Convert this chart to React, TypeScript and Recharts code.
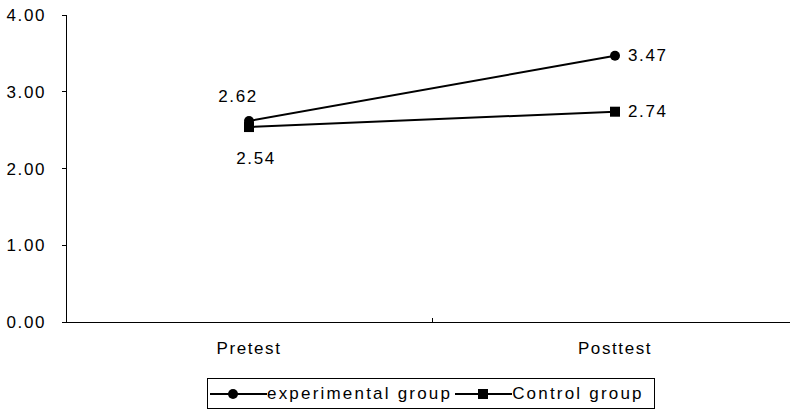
import { LineChart, Line, XAxis, YAxis, LabelList } from 'recharts';

const categories = ['Pretest', 'Posttest'];
const experimentalValues = [2.62, 3.47];
const controlValues = [2.54, 2.74];
const yTicks = [0, 1, 2, 3, 4];

const data = categories.map((name, i) => ({
    name,
    experimental: experimentalValues[i],
    control: controlValues[i],
}));

const FONT = '"Liberation Sans", Arial, sans-serif';
const textStyle = { fontFamily: FONT, fontSize: 17, letterSpacing: 1.6, fill: '#000' };
const axisStroke = { stroke: '#000', strokeWidth: 1, shapeRendering: 'crispEdges' };

// category label + small divider tick between categories
const CategoryTick = (props: any) => {
    const { x, y, payload, index, visibleTicksCount, width } = props;
    const band = width / visibleTicksCount;
    const axisY = y - 20;
    return (
        <g>
            <text x={x} y={y} dy="0.71em" textAnchor="middle" style={textStyle}>
                {payload.value}
            </text>
            {index < visibleTicksCount - 1 && (
                <line
                    x1={x + band / 2}
                    x2={x + band / 2}
                    y1={axisY}
                    y2={axisY - 4}
                    stroke="#000"
                    strokeWidth={1}
                    shapeRendering="crispEdges"
                />
            )}
        </g>
    );
};

const SquareDot = (props: any) => {
    const { cx, cy, index } = props;
    return <rect key={`sq-${index}`} x={cx - 5} y={cy - 5} width={10} height={10} fill="#000" />;
};

const makeLabel = (firstDx: number, firstDy: number) => (props: any) => {
    const { x, y, value, index } = props;
    const text = Number(value).toFixed(2);
    if (index === 0) {
        return (
            <text x={x + firstDx} y={y + firstDy} textAnchor="middle" dominantBaseline="central" style={textStyle}>
                {text}
            </text>
        );
    }
    return (
        <text x={x + 13} y={y} textAnchor="start" dominantBaseline="central" style={textStyle}>
            {text}
        </text>
    );
};

export default function App() {
    return (
        <div style={{ position: 'absolute', left: 0, top: 0, width: 790, height: 413, overflow: 'hidden', background: '#fff' }}>
            <LineChart width={798} height={413} data={data} margin={{ top: 15, right: 0, left: 0, bottom: 51 }}>
                <XAxis
                    dataKey="name"
                    scale="band"
                    height={40}
                    tickSize={0}
                    tickMargin={20}
                    tickLine={false}
                    axisLine={axisStroke}
                    tick={<CategoryTick />}
                    interval={0}
                />
                <YAxis
                    width={66}
                    domain={[0, 4]}
                    ticks={yTicks}
                    tickFormatter={(v: number) => v.toFixed(2)}
                    tickSize={4}
                    tickMargin={16}
                    axisLine={axisStroke}
                    tickLine={axisStroke}
                    tick={textStyle}
                />
                <Line
                    dataKey="experimental"
                    stroke="#000"
                    strokeWidth={2}
                    dot={{ r: 5, fill: '#000', stroke: '#000', strokeWidth: 0 }}
                    isAnimationActive={false}
                >
                    <LabelList dataKey="experimental" content={makeLabel(-11, -24)} />
                </Line>
                <Line
                    dataKey="control"
                    stroke="#000"
                    strokeWidth={2}
                    dot={<SquareDot />}
                    isAnimationActive={false}
                >
                    <LabelList dataKey="control" content={makeLabel(7, 31)} />
                </Line>
            </LineChart>

            {/* legend */}
            <div
                style={{
                    position: 'absolute',
                    left: 207,
                    top: 378,
                    width: 448,
                    height: 31,
                    border: '1px solid #000',
                    boxSizing: 'border-box',
                    display: 'flex',
                    alignItems: 'center',
                    fontFamily: FONT,
                    fontSize: 17,
                    letterSpacing: 2.2,
                    color: '#000',
                    whiteSpace: 'nowrap',
                }}
            >
                <svg width={57} height={12} style={{ marginLeft: 2 }}>
                    <line x1={0} x2={57} y1={6} y2={6} stroke="#000" strokeWidth={2} />
                    <circle cx={23} cy={6} r={5} fill="#000" />
                </svg>
                <span>experimental group</span>
                <svg width={57} height={12} style={{ marginLeft: 3 }}>
                    <line x1={0} x2={57} y1={6} y2={6} stroke="#000" strokeWidth={2} />
                    <rect x={23} y={1} width={10} height={10} fill="#000" />
                </svg>
                <span>Control group</span>
            </div>
        </div>
    );
}
